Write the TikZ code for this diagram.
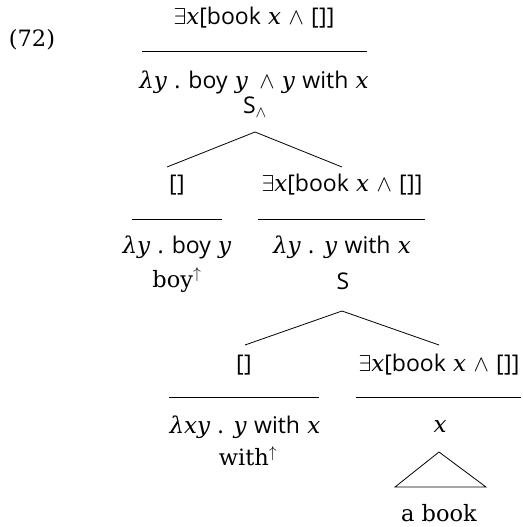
\documentclass[tikz,border=0pt]{standalone}
\usepackage{fix-cm}
\usepackage{amsmath}
\usepackage{fontspec}
\setmainfont{DejaVu Serif}
\setsansfont{Open Sans}
\newcommand{\wrd}[1]{\textsf{#1}}
\newcommand{\iv}[1]{\textit{#1}}
\newcommand{\exbook}{$\exists$\iv{x}\wrd{[book} \iv{x} $\wedge$ \wrd{[\kern0.5pt]]}}
\begin{document}
\begin{tikzpicture}[x=1pt,y=-1pt,
  lbl/.style={inner sep=0pt,anchor=center,font=\fontsize{23}{28}\selectfont},
  srf/.style={lbl,font=\fontsize{22.5}{27}\selectfont},
  rule/.style={line width=0.9pt},
  branch/.style={line width=0.8pt}]
\useasboundingbox (0,0) rectangle (522,527);
% example number
\node[srf] (num) at (32,40) {(72)};
% top node
\node[lbl] (t1) at (254,18) {\exbook};
\coordinate (tl) at (142,51); \coordinate (tr) at (367,51);
\draw[rule] (tl) -- (tr);
\node[lbl] (t2) at (254,82) {\iv{λy} \wrd{. boy} \iv{y}\, $\wedge$ \iv{y} \wrd{with} \iv{x}};
\node[lbl] (t3) at (255,107) {\wrd{S}$_\wedge$};
\coordinate (ta) at (255,132);
\coordinate (tbl) at (167,167); \coordinate (tbr) at (342,167);
\draw[branch] (tbl) -- (ta) -- (tbr);
% left middle node
\node[lbl] (l1) at (177,185) {\wrd{[\kern0.5pt]}};
\coordinate (ll) at (132,219); \coordinate (lr) at (222,219);
\draw[rule] (ll) -- (lr);
\node[lbl] (l2) at (177,247) {\iv{λy} \wrd{. boy} \iv{y}};
\node[srf] (l3) at (177,280) {boy$^{\uparrow}$};
% right middle node
\node[lbl] (r1) at (342,185) {\exbook};
\coordinate (rl) at (258,219); \coordinate (rr) at (425,219);
\draw[rule] (rl) -- (rr);
\node[lbl] (r2) at (342,247) {\iv{λy} \wrd{.} \iv{y} \wrd{with} \iv{x}};
\node[lbl] (r3) at (343,281) {\wrd{S}};
\coordinate (ra) at (342,311);
\coordinate (rbl) at (245,345); \coordinate (rbr) at (439,345);
\draw[branch] (rbl) -- (ra) -- (rbr);
% bottom left node
\node[lbl] (bl1) at (244,365) {\wrd{[\kern0.5pt]}};
\coordinate (bll) at (169,397); \coordinate (blr) at (319,397);
\draw[rule] (bll) -- (blr);
\node[lbl] (bl2) at (245,427) {\iv{λxy} \wrd{.} \iv{y} \wrd{with} \iv{x}};
\node[srf] (bl3) at (248,456) {with$^{\uparrow}$};
% bottom right node
\node[lbl] (br1) at (439,365) {\exbook};
\coordinate (brl) at (356,397); \coordinate (brr) at (521,397);
\draw[rule] (brl) -- (brr);
\node[lbl] (br2) at (440,427) {\iv{x}};
\coordinate (tra) at (439,452); \coordinate (trl) at (395,487); \coordinate (trr) at (486,487);
\draw[branch] (tra) -- (trl) -- (trr) -- cycle;
\node[srf] (br3) at (439,513) {a book};
\end{tikzpicture}
\end{document}
